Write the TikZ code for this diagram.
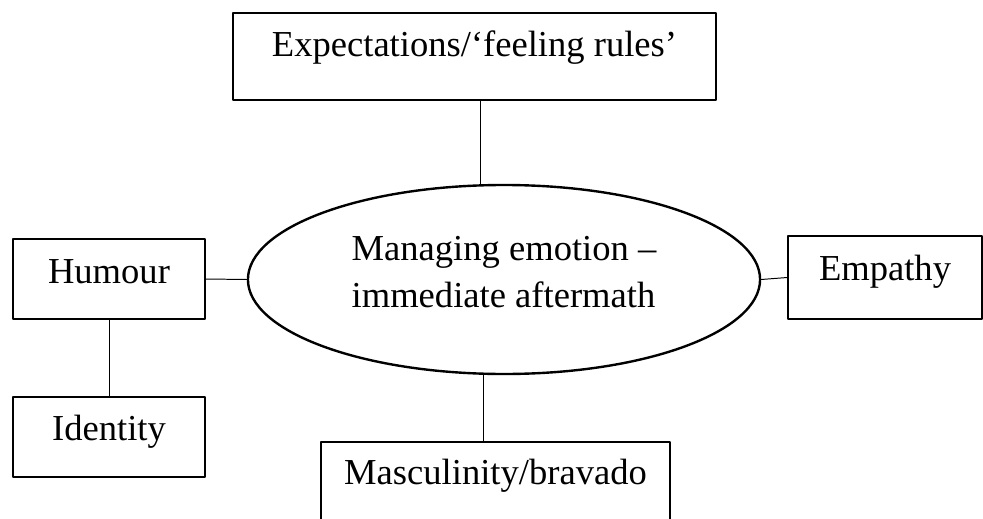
\documentclass[tikz,border=0pt]{standalone}
\usepackage{fontspec}
\setmainfont{Liberation Serif}
\usetikzlibrary{shapes.geometric}
\begin{document}
\begin{tikzpicture}[x=0.025cm, y=-0.025cm, line cap=round, line join=round, font=\fontsize{26}{33.4}\selectfont]
			\tikzset{box/.style={draw, line width=1pt, inner xsep=0pt, inner ysep=0pt, text height=31.3pt, minimum height=0pt},
				conn/.style={line width=0.7pt},
				hub/.style={draw, ellipse, line width=1.7pt, inner sep=0pt, align=left, minimum width=364.2pt, minimum height=134.4pt}}
			\useasboundingbox (0,0) rectangle (983,518);
			\clip (0,0) rectangle (983,518);
			\node[hub] (emo) at (504,279.5) {Managing emotion --\\immediate aftermath\\[-23pt]};
			\node[box, minimum width=343.6pt, text depth=30.6pt] (expect) at (474.5,56.5) {Expectations/`feeling rules'};
			\node[box, minimum width=136.6pt, text depth=25.6pt] (humour) at (109,279) {Humour};
			\node[box, minimum width=136.6pt, text height=30.6pt, text depth=26.3pt] (ident) at (109,437) {Identity};
			\node[box, minimum width=138pt, text depth=27.7pt] (empathy) at (885,277.5) {Empathy};
			\node[box, minimum width=248.2pt, text height=30.6pt, text depth=28.5pt] (masc) at (495.5,483.5) {Masculinity/bravado};
			\coordinate (up) at (480,0);
			\coordinate (down) at (483,0);
			\draw[conn] (up |- expect.south)--(up |- emo.north);
			\draw[conn] (down |- emo.south)--(down |- masc.north);
			\draw[conn] (humour.east)--(emo.west);
			\draw[conn] (emo.east)--(empathy.west);
			\draw[conn] (humour.south)--(ident.north);
		\end{tikzpicture}
\end{document}
